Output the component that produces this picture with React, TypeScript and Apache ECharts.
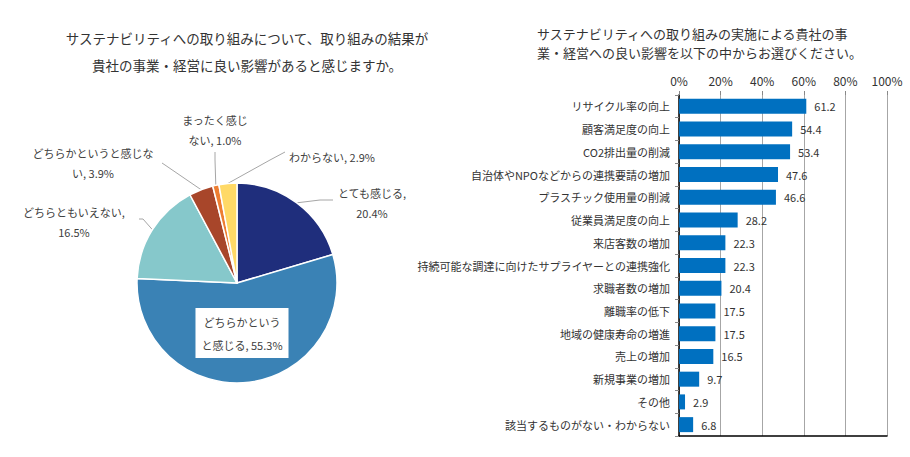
import React, { useEffect, useRef } from "react";
import * as echarts from "echarts";

const pieNames = [
  "とても感じる",
  "どちらかというと感じる",
  "どちらともいえない",
  "どちらかというと感じない",
  "まったく感じない",
  "わからない",
];
const pieValues = [20.4, 55.3, 16.5, 3.9, 1.0, 2.9];
const pieBreaks = [7, 7, 10, 11, 6, 0];

const leftTitleLines = [
  "サステナビリティへの取り組みについて、取り組みの結果が",
  "貴社の事業・経営に良い影響があると感じますか。",
];
const rightTitleLines = [
  "サステナビリティへの取り組みの実施による貴社の事",
  "業・経営への良い影響を以下の中からお選びください。",
];

const barCategories = [
  "リサイクル率の向上",
  "顧客満足度の向上",
  "CO2排出量の削減",
  "自治体やNPOなどからの連携要請の増加",
  "プラスチック使用量の削減",
  "従業員満足度の向上",
  "来店客数の増加",
  "持続可能な調達に向けたサプライヤーとの連携強化",
  "求職者数の増加",
  "離職率の低下",
  "地域の健康寿命の増進",
  "売上の増加",
  "新規事業の増加",
  "その他",
  "該当するものがない・わからない",
];
const barValues = [61.2, 54.4, 53.4, 47.6, 46.6, 28.2, 22.3, 22.3, 20.4, 17.5, 17.5, 16.5, 9.7, 2.9, 6.8];

const pieColors = ["#1F2E7C", "#3A82B5", "#86C8CB", "#A8462A", "#ED7D31", "#FFD966"];
// label layout (positions only)
const pieLabelPos: number[][] = [
  [372, 203],
  [242, 333],
  [74, 222],
  [93, 163],
  [215, 130],
  [332, 157],
];
const pieLineEnds: (number[][] | null)[] = [
  [[320, 200], [333, 200]],
  null,
  [[143, 219], [139, 219]],
  [[165, 165], [162, 163]],
  [[215, 160], [215, 152]],
  [[270, 160], [285, 152]],
];

const FONT = "Noto Sans CJK JP";

export default function App() {
  const ref = useRef<HTMLDivElement>(null);
  useEffect(() => {
    document.body.style.margin = "0";
    const chart = echarts.init(ref.current!, undefined, { renderer: "svg" });
    const pieData = pieNames.map((n, i) => {
      const item: any = {
        name: n,
        value: pieValues[i],
        itemStyle: { color: pieColors[i] },
      };
      if (i === 1) {
        item.label = { backgroundColor: "#fff", padding: [2, 6], lineHeight: 23 };
        item.labelLine = { show: false };
      }
      return item;
    });
    const leftStyle = { fontSize: 13.5, fontWeight: "normal", color: "#333", fontFamily: FONT };
    const rightStyle = { fontSize: 13, fontWeight: "normal", color: "#333", fontFamily: FONT };
    chart.setOption({
      animation: false,
      textStyle: { fontFamily: FONT },
      title: [
        { text: leftTitleLines[0], left: 242, top: 26, textAlign: "center", textStyle: leftStyle },
        { text: leftTitleLines[1], left: 242, top: 53, textAlign: "center", textStyle: leftStyle },
        { text: rightTitleLines[0], left: 532, top: 22, textAlign: "left", textStyle: rightStyle },
        { text: rightTitleLines[1], left: 532, top: 41, textAlign: "left", textStyle: rightStyle },
      ],
      grid: { left: 679, right: 23, top: 95, bottom: 21 },
      xAxis: [
        {
          type: "value",
          position: "top",
          min: 0,
          max: 100,
          interval: 20,
          axisLine: { show: false },
          axisTick: { show: true, length: 4, lineStyle: { color: "#888" } },
          axisLabel: { formatter: "{value}%", fontSize: 12, color: "#333", margin: 9, fontFamily: FONT },
          splitLine: { show: true, lineStyle: { color: "#A6A6A6", width: 1 } },
        },
        {
          type: "value",
          position: "bottom",
          min: 0,
          max: 100,
          axisLine: { show: true, lineStyle: { color: "#000", width: 1.5 } },
          axisTick: { show: false },
          axisLabel: { show: false },
          splitLine: { show: false },
        },
      ],
      yAxis: [
        {
          type: "category",
          data: barCategories,
          inverse: true,
          axisLine: { show: true, lineStyle: { color: "#A6A6A6" } },
          axisTick: { show: true, length: 4, lineStyle: { color: "#888" } },
          axisLabel: { fontSize: 11, color: "#333", margin: 9, fontFamily: FONT },
        },
        {
          type: "category",
          data: barCategories,
          inverse: true,
          position: "right",
          axisLine: { show: true, lineStyle: { color: "#000", width: 1.5 } },
          axisTick: { show: false },
          axisLabel: { show: false },
        },
      ],
      series: [
        {
          type: "bar",
          xAxisIndex: 0,
          yAxisIndex: 0,
          data: barValues,
          barCategoryGap: "34%",
          itemStyle: { color: "#0070C0" },
          label: {
            show: true,
            position: "right",
            distance: 8,
            fontSize: 11,
            color: "#333",
            fontFamily: FONT,
            formatter: (p: any) => p.value.toFixed(1),
          },
        },
        {
          type: "pie",
          center: [237, 283],
          radius: 100,
          startAngle: 90,
          clockwise: true,
          data: pieData,
          itemStyle: { borderColor: "#fff", borderWidth: 1.5 },
          label: {
            show: true,
            fontSize: 11,
            color: "#404040",
            lineHeight: 20,
            align: "center",
            fontFamily: FONT,
            formatter: (p: any) => {
              const full = `${p.name}, ${p.value.toFixed(1)}%`;
              const k = pieBreaks[p.dataIndex];
              if (!k) return full;
              return full.slice(0, k) + "\n" + full.slice(k).trim();
            },
          },
          labelLine: { show: true, lineStyle: { color: "#A6A6A6", width: 1 }, length: 10, length2: 10 },
          labelLayout: (p: any) => {
            const pos = pieLabelPos[p.dataIndex];
            const res: any = { x: pos[0], y: pos[1], align: "center", verticalAlign: "middle" };
            const ends = pieLineEnds[p.dataIndex];
            if (ends && p.labelLinePoints) {
              res.labelLinePoints = [p.labelLinePoints[0], ends[0], ends[1]];
            }
            return res;
          },
        },
      ],
    });
    return () => chart.dispose();
  }, []);
  return <div ref={ref} style={{ width: 910, height: 457 }} />;
}
